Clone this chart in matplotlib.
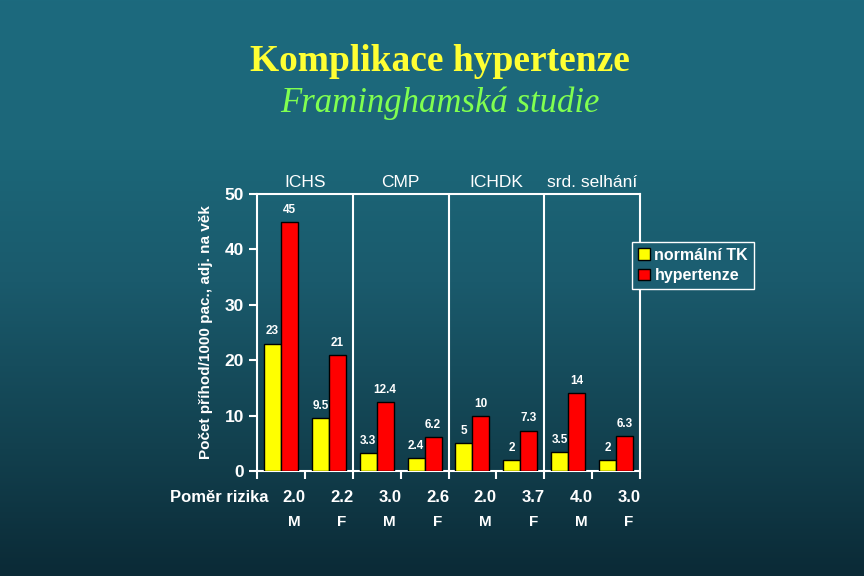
import numpy as np
import matplotlib
matplotlib.use("Agg")
import matplotlib.pyplot as plt
from matplotlib.patches import Patch

# data
groups = ["ICHS", "CMP", "ICHDK", "srd. selhání"]
normal_tk = [23, 9.5, 3.3, 2.4, 5, 2, 3.5, 2]
hypertenze = [45, 21, 12.4, 6.2, 10, 7.3, 14, 6.3]
risk_ratio = ["2.0", "2.2", "3.0", "2.6", "2.0", "3.7", "4.0", "3.0"]
sex = ["M", "F", "M", "F", "M", "F", "M", "F"]
norm_labels = ["23", "9.5", "3.3", "2.4", "5", "2", "3.5", "2"]
hyp_labels = ["45", "21", "12.4", "6.2", "10", "7.3", "14", "6.3"]

plt.rcParams['font.family'] = ['Liberation Sans', 'DejaVu Sans']

fig = plt.figure(figsize=(8.64, 5.76), dpi=100)

# background gradient
bg = fig.add_axes([0, 0, 1, 1], zorder=-10)
stops_y = [0.0, 0.26, 0.49, 0.78, 1.0]
stops_c = np.array([[28, 106, 126], [28, 103, 121], [26, 90, 108],
                    [18, 64, 78], [11, 42, 54]]) / 255.0
yy = np.linspace(0, 1, 576)
grad = np.stack([np.interp(yy, stops_y, stops_c[:, k]) for k in range(3)], axis=1)
bg.imshow(grad[:, None, :], aspect='auto', extent=[0, 1, 0, 1])
bg.set_axis_off()

fig.text(0.509, 0.877, "Komplikace hypertenze", color='#ffff33', fontsize=27,
         fontweight='bold', family='Liberation Serif', ha='center', va='baseline')
fig.text(0.509, 0.805, "Framinghamská studie", color='#80ff50', fontsize=25,
         style='italic', family='Liberation Serif', ha='center', va='baseline')

ax = fig.add_axes([0.2975, 0.1823, 0.4432, 0.4809])
ax.patch.set_alpha(0)

x = np.arange(len(normal_tk)) + 0.5
w = 0.354
ax.bar(x - w / 2, normal_tk, w, color='#ffff00', edgecolor='black', linewidth=1, zorder=3)
ax.bar(x + w / 2, hypertenze, w, color='#ff0000', edgecolor='black', linewidth=1, zorder=3)

for xi, v, t in zip(x - w / 2, normal_tk, norm_labels):
    ax.text(xi, v + 1.1, t, color='white', fontsize=8.5, fontweight='bold', ha='center', va='bottom')
for xi, v, t in zip(x + w / 2, hypertenze, hyp_labels):
    ax.text(xi, v + 1.1, t, color='white', fontsize=8.5, fontweight='bold', ha='center', va='bottom')

for sep in [2, 4, 6]:
    ax.axvline(sep, color='white', linewidth=1.5, zorder=2)

for i, g in enumerate(groups):
    ax.text(2 * i + 1, 50.8, g, color='white', fontsize=12.5, ha='center', va='bottom')

ax.set_xlim(0, 8)
ax.set_ylim(0, 50)
ax.set_yticks([0, 10, 20, 30, 40, 50])
ax.set_xticks(np.arange(9))
ax.set_xticklabels([])
for s in ax.spines.values():
    s.set_color('white')
    s.set_linewidth(1.5)
ax.tick_params(colors='white', width=1.5, length=6, labelsize=12.5)
for lab in ax.get_yticklabels():
    lab.set_fontweight('bold')

for xi, r, s in zip(x, risk_ratio, sex):
    ax.text(xi + 0.27, -3.5, r, color='white', fontsize=12, fontweight='bold',
            ha='center', va='top')
    ax.text(xi + 0.27, -8.0, s, color='white', fontsize=11, fontweight='bold',
            ha='center', va='top')
ax.text(0.23, -3.5, "Poměr rizika", color='white', fontsize=12, fontweight='bold',
        ha='right', va='top')

ax.set_ylabel("Počet příhod/1000 pac., adj. na věk", color='white', fontsize=11,
              fontweight='bold', labelpad=8)

handles = [Patch(facecolor='#ffff00', edgecolor='black', label='normální TK'),
           Patch(facecolor='#ff0000', edgecolor='black', label='hypertenze')]
leg = fig.legend(handles=handles, loc='upper left', bbox_to_anchor=(0.7315, 0.580),
                 borderaxespad=0, frameon=True, fancybox=False, framealpha=1,
                 facecolor='#1b5e71', edgecolor='white', handlelength=0.75,
                 handleheight=0.75, handletextpad=0.3, borderpad=0.35,
                 labelspacing=0.35, prop={'weight': 'bold', 'size': 11.5})
for t in leg.get_texts():
    t.set_color('white')
leg.get_frame().set_linewidth(1)

fig.savefig("out.png", dpi=100)
